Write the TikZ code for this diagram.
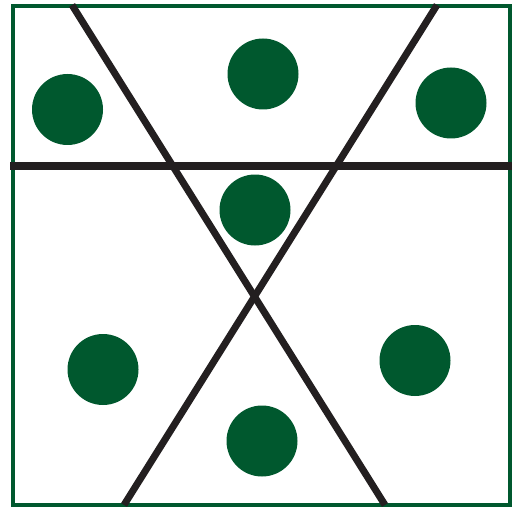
\documentclass[tikz,border=0pt]{standalone}
\definecolor{dgreen}{HTML}{00582E}
\definecolor{lblack}{HTML}{231F20}
\begin{document}
\begin{tikzpicture}[x=1pt,y=-1pt,
  frame/.style={draw=dgreen,line width=4pt},
  cut/.style={draw=lblack,line width=7pt},
  dot/.style={circle,fill=dgreen,minimum size=71pt,inner sep=0pt}]
\useasboundingbox (0,0) rectangle (514,508);
\draw[frame] (12.5,6) rectangle (510,505);
\coordinate (hl) at (10,166);
\coordinate (hr) at (512,166);
\coordinate (a1) at (72,5);
\coordinate (a2) at (385,505);
\coordinate (b1) at (437,5);
\coordinate (b2) at (124,505);
\draw[cut] (hl) -- (hr);
\draw[cut] (a1) -- (a2);
\draw[cut] (b1) -- (b2);
\node[dot] (d1) at (67.5,109.5) {};
\node[dot] (d2) at (263,74) {};
\node[dot] (d3) at (451,103) {};
\node[dot] (d4) at (255,210) {};
\node[dot] (d5) at (103,369.5) {};
\node[dot] (d6) at (415,360.5) {};
\node[dot] (d7) at (262,441) {};
\end{tikzpicture}
\end{document}
